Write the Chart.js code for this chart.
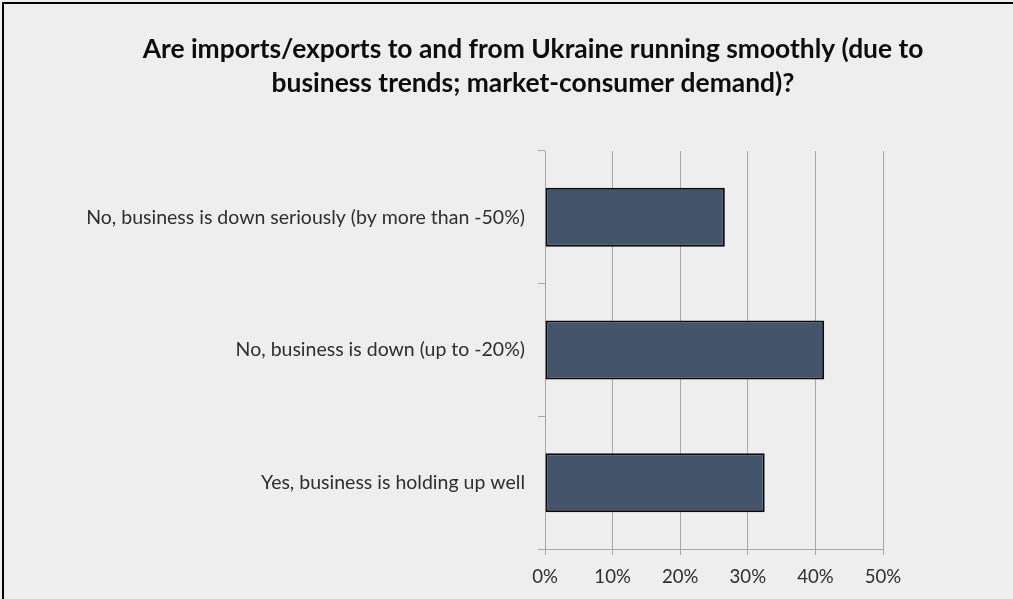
<!DOCTYPE html>
<html>
<head>
<meta charset="utf-8">
<title>Ukraine imports/exports</title>
<script src="https://cdn.jsdelivr.net/npm/chart.js@4/dist/chart.umd.min.js"></script>
<style>
  html, body { margin: 0; padding: 0; background: #eeeeee; }
  #wrap { position: relative; width: 1013px; height: 599px; }
</style>
</head>
<body>
<div id="wrap"><canvas id="tradeChart" width="1013" height="599"></canvas></div>
<script>
// ---- data ----
const titleLines = [
    "Are imports/exports to and from Ukraine running smoothly (due to",
    "business trends; market-consumer demand)?"
];
const answers = [
    "No, business is down seriously (by more than -50%)",
    "No, business is down (up to -20%)",
    "Yes, business is holding up well"
];
const shares = [26.6, 41.3, 32.5];   // % of respondents
const axisTicks = [0, 10, 20, 30, 40, 50];

const BG = "#eeeeee";
const GRID = "#a6a6a6";
const LABEL = "#2e2e2e";
const FONT = "Lato, 'Open Sans', sans-serif";

// plain grey panel with the dark frame on top/left
const framePlugin = {
    id: "frame",
    beforeDraw(chart) {
        const ctx = chart.ctx;
        ctx.save();
        ctx.fillStyle = BG;
        ctx.fillRect(0, 0, chart.width, chart.height);
        ctx.restore();
    },
    afterDraw(chart) {
        const ctx = chart.ctx;
        ctx.save();
        ctx.fillStyle = "#000000";
        ctx.fillRect(2, 2, chart.width - 2, 2);
        ctx.fillRect(2, 2, 2, chart.height - 2);
        ctx.restore();
    }
};

const ctx = document.getElementById("tradeChart").getContext("2d");
new Chart(ctx, {
    type: "bar",
    data: {
        labels: answers,
        datasets: [{
            data: shares,
            backgroundColor: "#44546a",
            borderColor: "#0a0a0a",
            borderWidth: 2,
            borderSkipped: false,
            barPercentage: 0.445,
            categoryPercentage: 1
        }]
    },
    options: {
        indexAxis: "y",
        responsive: false,
        animation: false,
        layout: { padding: { left: 53, right: 0, top: 0, bottom: 0 } },
        plugins: {
            legend: { display: false },
            tooltip: { enabled: false },
            title: {
                display: true,
                text: titleLines,
                color: "#0d0d0d",
                font: { family: FONT, size: 26.4, weight: "bold", lineHeight: "34px" },
                padding: { top: 32, bottom: 51 }
            }
        },
        scales: {
            x: {
                type: "linear",
                min: 0,
                max: 50,
                afterBuildTicks: (scale) => { scale.ticks = axisTicks.map((v) => ({ value: v })); },
                afterFit: (scale) => { scale.height = 50; },
                ticks: {
                    color: LABEL,
                    font: { family: FONT, size: 18.6 },
                    padding: 11,
                    callback: (v) => v + "%"
                },
                grid: { color: GRID, lineWidth: 1, tickLength: 6 },
                border: { display: true, color: GRID, width: 1 }
            },
            y: {
                afterFit: (scale) => { scale.width = 545 - 53; },
                ticks: {
                    color: LABEL,
                    font: { family: FONT, size: 19.5 },
                    padding: 13
                },
                grid: { offset: true, drawOnChartArea: false, color: GRID, lineWidth: 1, tickLength: 7 },
                border: { display: true, color: GRID, width: 1 }
            },
            // empty strip on the right so the plot stops at 50%
            gutter: {
                type: "category",
                position: "right",
                afterFit: (scale) => { scale.width = 130; },
                ticks: { display: false },
                grid: { display: false },
                border: { display: false }
            }
        }
    },
    plugins: [framePlugin]
});
</script>
</body>
</html>
